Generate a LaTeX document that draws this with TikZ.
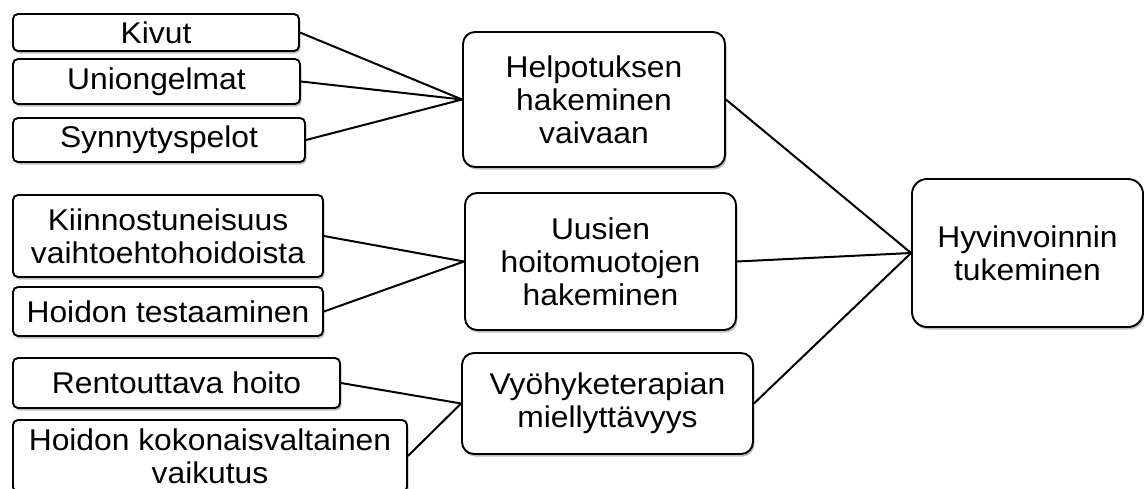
\documentclass[tikz,border=0pt]{standalone}
\usepackage{fontspec}
\setmainfont{Liberation Sans}[FakeStretch=1.06]
\usetikzlibrary{shadows}
\tikzset{
  box/.style={draw=black, line width=1.9pt, fill=white, align=center, inner sep=0pt,
    font=\fontsize{30}{33}\selectfont,
    drop shadow={shadow xshift=1.5pt, shadow yshift=-2.5pt, opacity=0.25, fill=black}},
  smallbox/.style={box, rounded corners=5pt},
  midbox/.style={box, rounded corners=12pt},
  bigbox/.style={box, rounded corners=15pt},
  link/.style={draw=black, line width=2pt}
}
\begin{document}
\begin{tikzpicture}[x=1pt,y=-1pt]
\useasboundingbox (0,0) rectangle (1144,488);
% left column
\node[smallbox, minimum width=286pt, minimum height=37pt] (kivut) at (156,32.5) {Kivut};
\node[smallbox, minimum width=287pt, minimum height=45pt] (union) at (156.5,81.5) {Uniongelmat};
\node[smallbox, minimum width=292pt, minimum height=44pt] (synny) at (159,140) {Synnytyspelot};
\node[smallbox, minimum width=310pt, minimum height=82pt] (kiinn) at (168,236) {Kiinnostuneisuus\\vaihtoehtohoidoista};
\node[smallbox, minimum width=310pt, minimum height=49pt] (testa) at (168,311.5) {Hoidon testaaminen};
\node[smallbox, minimum width=327pt, minimum height=50pt] (rento) at (176.5,383) {Rentouttava hoito};
\node[smallbox, minimum width=394pt, minimum height=72pt] (kokon) at (210,456) {Hoidon kokonaisvaltainen\\vaikutus};
% middle column
\node[midbox, minimum width=262pt, minimum height=135pt] (helpo) at (594,99.5) {Helpotuksen\\hakeminen\\vaivaan};
\node[midbox, minimum width=271pt, minimum height=137pt] (uusi) at (600.5,261.5) {Uusien\\hoitomuotojen\\hakeminen};
\node[midbox, minimum width=291pt, minimum height=101pt] (vyo) at (607.5,403.5) {Vyöhyketerapian\\miellyttävyys};
% right
\node[bigbox, minimum width=231pt, minimum height=148pt] (hyvi) at (1027.5,253) {Hyvinvoinnin\\tukeminen};
% connectors
\draw[link] (kivut.east) -- (helpo.west);
\draw[link] (union.east) -- (helpo.west);
\draw[link] (synny.east) -- (helpo.west);
\draw[link] (kiinn.east) -- (uusi.west);
\draw[link] (testa.east) -- (uusi.west);
\draw[link] (rento.east) -- (vyo.west);
\draw[link] (kokon.east) -- (vyo.west);
\draw[link] (helpo.east) -- (hyvi.west);
\draw[link] (uusi.east) -- (hyvi.west);
\draw[link] (vyo.east) -- (hyvi.west);
\end{tikzpicture}
\end{document}
